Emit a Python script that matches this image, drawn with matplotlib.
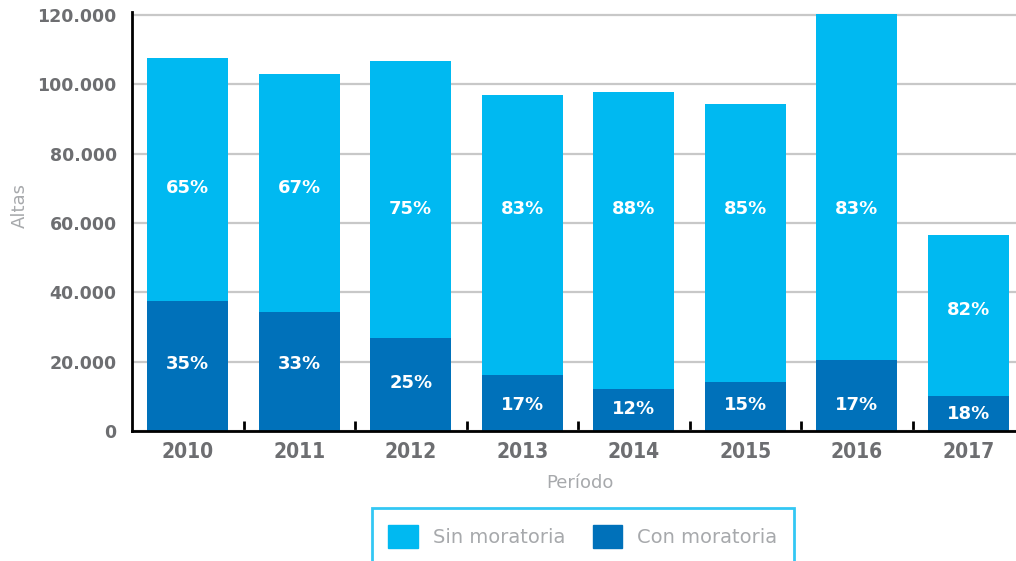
import matplotlib
matplotlib.use('Agg')
import matplotlib.pyplot as plt
import numpy as np
from matplotlib.patches import Patch
from matplotlib import font_manager

periodos = ['2010', '2011', '2012', '2013', '2014', '2015', '2016', '2017']
total_altas = [107600, 103000, 106800, 97000, 97800, 94400, 120300, 56600]
con_moratoria = [37500, 34300, 26800, 16200, 12000, 14100, 20500, 10000]
pct_sin = ['65%', '67%', '75%', '83%', '88%', '85%', '83%', '82%']
pct_con = ['35%', '33%', '25%', '17%', '12%', '15%', '17%', '18%']
y_ticks = [0, 20000, 40000, 60000, 80000, 100000, 120000]
y_tick_labels = ['0', '20.000', '40.000', '60.000', '80.000', '100.000', '120.000']
# heights of the percentage labels
sin_label_y = [70000, 70000, 64000, 64000, 64000, 64000, 64000, 35000]
con_label_y = [19300, 19300, 13900, 7500, 6300, 7500, 7500, 4900]

light_blue = '#00b9f1'
dark_blue = '#0071ba'
tick_gray = '#6d6e71'
label_gray = '#a7a9ac'

names = set(f.name for f in font_manager.fontManager.ttflist)
narrow = 'Liberation Sans Narrow' if 'Liberation Sans Narrow' in names else 'DejaVu Sans'

sin_moratoria = np.array(total_altas) - np.array(con_moratoria)
x = np.arange(len(periodos))

fig = plt.figure(figsize=(10.16, 5.61), dpi=100)
ax = fig.add_axes([132/1016, 130/561, 892/1016, 419.3/561])

ax.grid(axis='y', linestyle='-', color='#c8c8c8', linewidth=1.6)
ax.set_axisbelow(True)

ax.bar(x, con_moratoria, width=0.73, color=dark_blue)
ax.bar(x, sin_moratoria, width=0.73, bottom=con_moratoria, color=light_blue)

for i in range(len(periodos)):
  ax.text(x[i], con_label_y[i], pct_con[i], color='white', fontsize=13, fontweight='bold', ha='center', va='center')
  ax.text(x[i], sin_label_y[i], pct_sin[i], color='white', fontsize=13, fontweight='bold', ha='center', va='center')

ax.set_xlim(-0.5, 7.5)
ax.set_ylim(0, 121000)
ax.set_yticks(y_ticks)
ax.set_yticklabels(y_tick_labels)
ax.set_xticks(x)
ax.set_xticklabels(periodos)
ax.set_xticks(np.arange(0.5, 7, 1), minor=True)
ax.tick_params(axis='x', which='major', length=0, pad=8, labelsize=15, labelcolor=tick_gray)
ax.tick_params(axis='x', which='minor', direction='in', length=7, width=2, color='black')
ax.tick_params(axis='y', length=0, pad=11, labelsize=12.5, labelcolor=tick_gray)
for lbl in ax.get_xticklabels():
  lbl.set_fontfamily(narrow)
  lbl.set_fontstretch('condensed')
  lbl.set_fontweight('bold')
for lbl in ax.get_yticklabels():
  lbl.set_fontweight('bold')

ax.spines['top'].set_visible(False)
ax.spines['right'].set_visible(False)
ax.spines['left'].set_linewidth(2)
ax.spines['bottom'].set_linewidth(2)

fig.text(20/1016, 1-205/561, 'Altas', rotation=90, color=label_gray, fontsize=13, ha='center', va='center')
fig.text(580/1016, 1-483/561, 'Período', color=label_gray, fontsize=13, ha='center', va='center')

handles = [Patch(color=light_blue), Patch(color=dark_blue)]
leg = fig.legend(handles, ['Sin moratoria', 'Con moratoria'], ncol=2,
                 loc='upper center', bbox_to_anchor=(583/1016, 1-508/561),
                 frameon=True, fancybox=False, fontsize=14, borderaxespad=0,
                 handlelength=1.5, handleheight=1.5, handletextpad=0.8,
                 columnspacing=1.4, borderpad=0.85, labelcolor=label_gray)
leg.get_frame().set_edgecolor(light_blue)
leg.get_frame().set_linewidth(2)

plt.savefig('out.png', dpi=100)
